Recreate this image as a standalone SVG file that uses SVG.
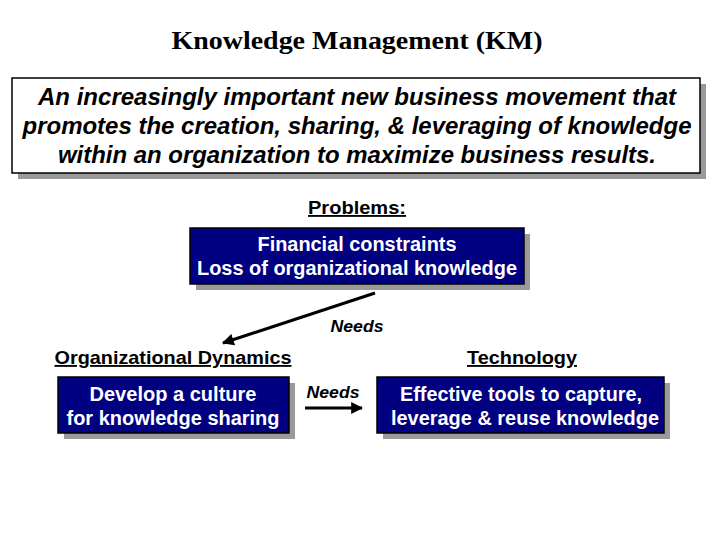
<svg xmlns="http://www.w3.org/2000/svg" width="720" height="540" viewBox="0 0 720 540">
<defs>
<style>
.sh{fill:#9a9a9a}
.nb{fill:#000080;stroke:#000;stroke-width:1.5}
.wt{fill:#fff;font-family:"Liberation Sans",Arial,sans-serif;font-weight:bold;font-size:20px;text-anchor:middle}
.hd{fill:#000;font-family:"Liberation Sans",Arial,sans-serif;font-weight:bold;font-size:18.5px;text-anchor:middle;text-decoration:underline}
.it{fill:#000;font-family:"Liberation Sans",Arial,sans-serif;font-weight:bold;font-style:italic;text-anchor:middle}
</style>
<marker id="ah" viewBox="0 0 10 10" refX="9" refY="5" markerWidth="4" markerHeight="4" orient="auto" markerUnits="strokeWidth">
<path d="M0,0 L10,5 L0,10 z" fill="#000"/>
</marker>
</defs>
<rect width="720" height="540" fill="#fff"/>
<text x="357" y="49" font-family="'Liberation Serif','Times New Roman',serif" font-weight="bold" font-size="26" text-anchor="middle" textLength="371" lengthAdjust="spacingAndGlyphs">Knowledge Management (KM)</text>
<g id="definition">
<rect class="sh" x="18" y="84" width="688" height="95"/>
<rect x="12" y="78" width="688" height="95" fill="#fff" stroke="#000" stroke-width="1.5"/>
<text class="it" font-size="23" x="357" y="105" textLength="638" lengthAdjust="spacingAndGlyphs">An increasingly important new business movement that</text>
<text class="it" font-size="23" x="357" y="134" textLength="669" lengthAdjust="spacingAndGlyphs">promotes the creation, sharing, &amp; leveraging of knowledge</text>
<text class="it" font-size="23" x="357" y="163" textLength="598" lengthAdjust="spacingAndGlyphs">within an organization to maximize business results.</text>
</g>
<g id="problems">
<text class="hd" x="357" y="214" font-size="17.5" textLength="98" lengthAdjust="spacingAndGlyphs">Problems:</text>
<rect class="sh" x="196" y="234" width="334" height="56"/>
<rect class="nb" x="190" y="228" width="334" height="56"/>
<text class="wt" x="357" y="251" textLength="199" lengthAdjust="spacingAndGlyphs">Financial constraints</text>
<text class="wt" x="357" y="275" textLength="320" lengthAdjust="spacingAndGlyphs">Loss of organizational knowledge</text>
</g>
<g id="orgdyn">
<text class="hd" x="173" y="364" textLength="237" lengthAdjust="spacingAndGlyphs">Organizational Dynamics</text>
<rect class="sh" x="64" y="383" width="231" height="56"/>
<rect class="nb" x="58" y="377" width="231" height="56"/>
<text class="wt" x="173" y="401" textLength="167" lengthAdjust="spacingAndGlyphs">Develop a culture</text>
<text class="wt" x="173" y="425" textLength="213" lengthAdjust="spacingAndGlyphs">for knowledge sharing</text>
</g>
<g id="technology">
<text class="hd" x="522" y="364" textLength="110" lengthAdjust="spacingAndGlyphs">Technology</text>
<rect class="sh" x="383" y="383" width="287" height="56"/>
<rect class="nb" x="377" y="377" width="287" height="56"/>
<text class="wt" x="521" y="401" textLength="242" lengthAdjust="spacingAndGlyphs">Effective tools to capture,</text>
<text class="wt" x="525" y="425" textLength="268" lengthAdjust="spacingAndGlyphs">leverage &amp; reuse knowledge</text>
</g>
<g id="connectors">
<line x1="375" y1="293" x2="223" y2="343" stroke="#000" stroke-width="3" marker-end="url(#ah)"/>
<text class="it" font-size="16.5" x="357" y="332" textLength="53" lengthAdjust="spacingAndGlyphs">Needs</text>
<line x1="305" y1="408" x2="362" y2="408" stroke="#000" stroke-width="3" marker-end="url(#ah)"/>
<text class="it" font-size="16.5" x="333" y="398" textLength="53" lengthAdjust="spacingAndGlyphs">Needs</text>
</g>
</svg>
